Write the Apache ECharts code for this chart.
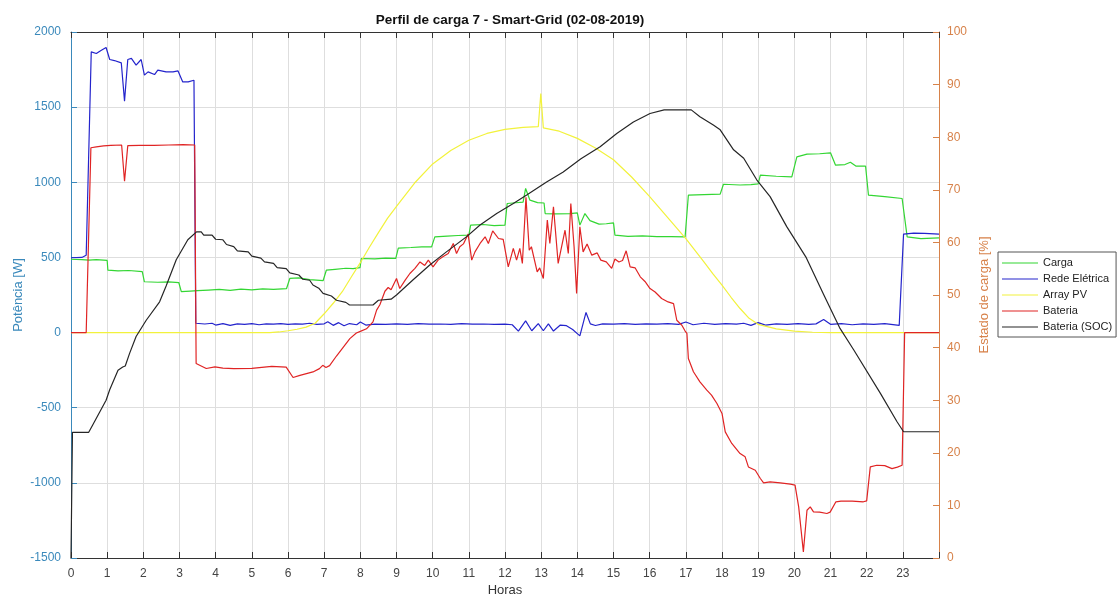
<!DOCTYPE html>
<html>
<head>
<meta charset="utf-8">
<title>Perfil de carga 7 - Smart-Grid</title>
<script src="https://cdn.jsdelivr.net/npm/echarts@6/dist/echarts.min.js"></script>
<style>
  html, body { margin: 0; padding: 0; background: #ffffff; }
  #chart { width: 1119px; height: 598px; }
</style>
</head>
<body>
<div id="chart"></div>
<script>
// Daily profile, 02-08-2019: [hour, value] pairs.
// Power series in W (left axis), battery state of charge in % (right axis).

const seriesNames = ['Carga', 'Rede Elétrica', 'Array PV', 'Bateria', 'Bateria (SOC)'];
const hourTicks = [0, 24, 1];          // min, max, step of the time axis
const powerTicks = [-1500, 2000, 500]; // min, max, step of the power axis
const socTicks = [0, 100, 10];         // min, max, step of the SOC axis

const carga = [
  [0, 488], [0.3, 486], [0.5, 482], [0.7, 485], [1.0, 480], [1.02, 415], [1.3, 410], [1.6, 413],
  [1.97, 405], [2.03, 338], [2.4, 335], [2.7, 337], [2.98, 333], [3.05, 272], [3.3, 276],
  [3.5, 279], [3.8, 283], [4.1, 287], [4.4, 281], [4.7, 289], [5.0, 284], [5.3, 291], [5.6, 287],
  [5.96, 293], [6.05, 360], [6.3, 364], [6.6, 352], [6.97, 345], [7.06, 415], [7.3, 421],
  [7.6, 428], [7.8, 425], [7.99, 432], [8.03, 493], [8.4, 490], [8.7, 496], [8.98, 494],
  [9.05, 562], [9.4, 566], [9.7, 570], [9.97, 570], [10.06, 637], [10.4, 642], [10.7, 646],
  [11.0, 648], [11.05, 715], [11.4, 719], [11.7, 712], [12.0, 715], [12.06, 859], [12.3, 864],
  [12.5, 868], [12.57, 959], [12.69, 881], [12.9, 865], [13.08, 862], [13.11, 792], [13.4, 790],
  [13.8, 792], [14.0, 796], [14.07, 715], [14.21, 792], [14.35, 745], [14.6, 722], [14.8, 724],
  [15.0, 730], [15.04, 648], [15.4, 640], [15.8, 643], [16.2, 639], [16.6, 638], [16.98, 637],
  [17.07, 914], [17.5, 918], [17.95, 921], [18.04, 987], [18.5, 982], [18.8, 985], [19.0, 990],
  [19.06, 1047], [19.5, 1040], [19.93, 1036], [20.07, 1169], [20.35, 1187], [20.7, 1190],
  [21.0, 1196], [21.14, 1114], [21.4, 1118], [21.55, 1133], [21.7, 1108], [21.97, 1107],
  [22.05, 914], [22.5, 905], [22.98, 892], [23.12, 637], [23.5, 625], [24, 630]
];

const rede = [
  [0, 498], [0.3, 500], [0.42, 515], [0.56, 1868], [0.7, 1857], [0.84, 1879], [0.97, 1897],
  [1.07, 1817], [1.2, 1810], [1.39, 1795], [1.48, 1540], [1.57, 1817], [1.67, 1824],
  [1.8, 1779], [1.94, 1817], [2.03, 1713], [2.13, 1735], [2.31, 1717], [2.4, 1746],
  [2.63, 1735], [2.82, 1735], [2.96, 1741], [3.09, 1668], [3.24, 1668], [3.4, 1679],
  [3.45, 62], [3.7, 57], [3.9, 62], [4.0, 50], [4.2, 60], [4.4, 48], [4.6, 58], [4.8, 55],
  [5.0, 60], [5.2, 52], [5.4, 58], [5.6, 56], [5.8, 60], [6.0, 54], [6.2, 58], [6.4, 56],
  [6.6, 62], [6.8, 55], [7.0, 58], [7.1, 72], [7.25, 48], [7.4, 66], [7.55, 45], [7.7, 60],
  [7.9, 52], [8.0, 70], [8.15, 50], [8.4, 56], [8.7, 54], [9.0, 58], [9.3, 55], [9.6, 60],
  [9.9, 56], [10.2, 57], [10.5, 54], [10.8, 60], [11.1, 56], [11.4, 57], [11.7, 55], [12.0, 56],
  [12.2, 52], [12.37, 10], [12.57, 78], [12.74, 12], [12.92, 60], [13.06, 12], [13.2, 58],
  [13.34, 10], [13.53, 50], [13.7, 46], [13.87, 20], [14.07, -22], [14.24, 134], [14.36, 58],
  [14.5, 47], [14.7, 58], [15.0, 56], [15.3, 60], [15.6, 55], [15.9, 58], [16.2, 56],
  [16.5, 60], [16.8, 55], [17.0, 70], [17.2, 52], [17.5, 62], [17.8, 55], [18.1, 60],
  [18.4, 56], [18.6, 62], [18.8, 48], [19.0, 66], [19.2, 50], [19.5, 58], [19.8, 55],
  [20.1, 60], [20.4, 54], [20.6, 58], [20.81, 87], [21.0, 55], [21.3, 60], [21.6, 52],
  [21.9, 58], [22.2, 55], [22.5, 60], [22.9, 48], [23.02, 655], [23.3, 662], [23.6, 660],
  [24, 655]
];

const arrayPV = [
  [0, 0], [5.5, 0], [5.75, 4], [6.0, 12], [6.25, 22], [6.5, 36], [6.75, 62], [7.0, 125],
  [7.25, 195], [7.5, 272], [7.75, 370], [8.0, 465], [8.25, 568], [8.5, 665], [8.75, 760],
  [9.0, 840], [9.5, 995], [10.0, 1122], [10.5, 1212], [11.0, 1280], [11.5, 1325], [12.0, 1352],
  [12.5, 1366], [12.92, 1370], [12.99, 1590], [13.06, 1362], [13.5, 1340], [14.0, 1292],
  [14.5, 1228], [15.0, 1150], [15.5, 1035], [16.0, 905], [16.5, 765], [17.0, 625], [17.5, 470],
  [17.75, 390], [18.0, 315], [18.25, 235], [18.5, 160], [18.75, 95], [19.0, 55], [19.5, 25],
  [20.0, 10], [20.5, 2], [21.0, 0], [24, 0]
];

const bateria = [
  [0, 0], [0.42, 0], [0.55, 1230], [0.7, 1236], [0.9, 1242], [1.1, 1246], [1.4, 1248],
  [1.48, 1007], [1.57, 1244], [1.9, 1246], [2.3, 1245], [2.7, 1248], [3.1, 1250], [3.42, 1248],
  [3.46, -206], [3.74, -239], [3.98, -228], [4.2, -236], [4.5, -240], [5.0, -238], [5.55, -225],
  [5.95, -230], [6.14, -299], [6.33, -285], [6.69, -262], [6.87, -240], [6.96, -218],
  [7.05, -232], [7.15, -220], [7.34, -156], [7.52, -100], [7.71, -40], [7.89, -3], [8.0, 8],
  [8.17, 25], [8.35, 71], [8.45, 149], [8.54, 185], [8.68, 275], [8.77, 300], [8.85, 285],
  [9.0, 360], [9.09, 293], [9.24, 349], [9.37, 393], [9.51, 427], [9.65, 470], [9.78, 447],
  [9.88, 482], [10.01, 437], [10.15, 482], [10.28, 504], [10.43, 526], [10.57, 593],
  [10.66, 526], [10.75, 571], [10.85, 590], [10.98, 655], [11.08, 482], [11.17, 537],
  [11.31, 593], [11.45, 637], [11.54, 593], [11.66, 677], [11.82, 626], [11.95, 620],
  [12.09, 437], [12.23, 560], [12.32, 482], [12.41, 560], [12.48, 460], [12.58, 900],
  [12.67, 548], [12.73, 571], [12.89, 404], [12.96, 430], [13.06, 360], [13.17, 748],
  [13.24, 593], [13.34, 837], [13.47, 460], [13.66, 681], [13.75, 526], [13.82, 859],
  [13.91, 571], [13.98, 260], [14.07, 704], [14.16, 537], [14.27, 590], [14.4, 515],
  [14.55, 530], [14.65, 482], [14.8, 470], [14.95, 427], [15.04, 490], [15.15, 470],
  [15.25, 480], [15.35, 544], [15.46, 437], [15.6, 430], [15.74, 371], [15.87, 340],
  [16.01, 293], [16.15, 270], [16.33, 227], [16.51, 204], [16.66, 193], [16.75, 82],
  [16.89, 49], [16.98, 10], [17.03, -6], [17.07, -172], [17.21, -261], [17.39, -328],
  [17.58, -383], [17.71, -416], [17.86, -472], [18.0, -538], [18.09, -661], [18.27, -738],
  [18.5, -805], [18.64, -827], [18.73, -894], [18.92, -916], [19.06, -971], [19.15, -1000],
  [19.33, -993], [19.61, -1000], [19.89, -1009], [20.02, -1015], [20.12, -1160], [20.17, -1160],
  [20.25, -1459], [20.35, -1182], [20.44, -1160], [20.53, -1193], [20.7, -1195], [20.9, -1204],
  [20.99, -1195], [21.15, -1126], [21.29, -1122], [21.6, -1122], [21.91, -1126], [22.0, -1120],
  [22.1, -894], [22.28, -883], [22.5, -885], [22.7, -905], [22.85, -895], [22.98, -883],
  [23.05, 0], [24, 0]
];

const soc = [
  [0, 0], [0.04, 23.9], [0.49, 23.9], [0.6, 25.3], [0.97, 30.0], [1.07, 32.0], [1.3, 35.7],
  [1.43, 36.3], [1.5, 36.5], [1.62, 38.9], [1.8, 42.1], [2.08, 45.2], [2.45, 48.7],
  [2.63, 51.7], [2.91, 56.7], [3.23, 60.5], [3.47, 62.0], [3.6, 62.0], [3.67, 61.4],
  [3.9, 61.4], [4.0, 60.6], [4.2, 60.5], [4.3, 59.6], [4.5, 59.2], [4.6, 58.4], [4.9, 58.2],
  [5.0, 57.4], [5.25, 57.0], [5.35, 56.3], [5.6, 56.0], [5.7, 55.2], [5.95, 55.0], [6.05, 54.2],
  [6.3, 53.8], [6.41, 53.0], [6.6, 52.8], [6.69, 51.9], [6.85, 51.3], [6.97, 50.3], [7.2, 49.8],
  [7.34, 49.0], [7.6, 48.6], [7.7, 48.1], [8.35, 48.1], [8.5, 49.0], [8.85, 49.2], [9.0, 50.0],
  [9.46, 52.9], [9.92, 55.7], [10.38, 58.2], [10.94, 61.1], [11.31, 63.3], [11.77, 65.5],
  [12.23, 67.4], [12.6, 69.0], [13.15, 71.5], [13.61, 73.4], [14.1, 75.9], [14.63, 78.2],
  [15.09, 80.7], [15.55, 82.9], [16.01, 84.5], [16.4, 85.2], [17.15, 85.2], [17.39, 83.9],
  [17.76, 82.3], [17.95, 81.4], [18.32, 77.6], [18.6, 76.0], [18.96, 71.9], [19.33, 68.7],
  [19.79, 63.0], [20.33, 57.1], [20.81, 50.1], [21.25, 43.8], [21.64, 39.6], [22.38, 31.3],
  [22.84, 25.9], [23.02, 24.0], [24, 24.0]
];

const seriesColors = ['#33d633', '#2424cc', '#f2f23c', '#e02424', '#262626'];

const FONT = '"Liberation Sans", Arial, Helvetica, sans-serif';
const LEFT_COLOR = '#3a89bb';
const RIGHT_COLOR = '#d7824a';
const GRID_COLOR = '#dedede';
const AXIS_DARK = '#333333';

function lineSeries(name, data, color, yAxisIndex) {
  return {
    name: name,
    type: 'line',
    data: data,
    yAxisIndex: yAxisIndex,
    showSymbol: false,
    symbol: 'none',
    lineStyle: { color: color, width: 1.2 },
    itemStyle: { color: color },
    emphasis: { disabled: true }
  };
}

const chart = echarts.init(document.getElementById('chart'), null, { renderer: 'canvas' });

chart.setOption({
  animation: false,
  backgroundColor: '#ffffff',
  title: {
    text: 'Perfil de carga 7 - Smart-Grid (02-08-2019)',
    left: 505,
    top: 8,
    textAlign: 'center',
    textStyle: { fontFamily: FONT, fontSize: 13.5, fontWeight: 'bold', color: '#111111' }
  },
  grid: { left: 71, right: 180, top: 32, bottom: 40, outerBoundsMode: 'none', containLabel: false },
  legend: {
    orient: 'vertical',
    left: 998,
    top: 252,
    data: seriesNames,
    icon: 'rect',
    backgroundColor: '#ffffff',
    borderColor: '#555555',
    borderWidth: 1,
    borderRadius: 0,
    padding: [5, 4, 4, 4],
    itemGap: 4,
    itemWidth: 36,
    itemHeight: 1.2,
    textStyle: { fontFamily: FONT, fontSize: 11, lineHeight: 12, color: '#222222' }
  },
  xAxis: [
    {
      type: 'value',
      position: 'bottom',
      min: hourTicks[0],
      max: hourTicks[1],
      interval: hourTicks[2],
      name: 'Horas',
      nameLocation: 'middle',
      nameGap: 26,
      nameMoveOverlap: false,
      nameTextStyle: { fontFamily: FONT, fontSize: 13, color: '#333333' },
      axisLine: { show: true, onZero: false, lineStyle: { color: AXIS_DARK, width: 1 } },
      axisTick: { show: true, inside: true, length: 6, lineStyle: { color: AXIS_DARK } },
      axisLabel: {
        fontFamily: FONT, fontSize: 12, color: '#444444', margin: 10,
        formatter: function (v) { return v < hourTicks[1] ? String(v) : ''; }
      },
      splitLine: { show: true, lineStyle: { color: GRID_COLOR, width: 1 } }
    },
    {
      type: 'value',
      position: 'top',
      min: hourTicks[0],
      max: hourTicks[1],
      interval: hourTicks[2],
      axisLine: { show: true, onZero: false, lineStyle: { color: AXIS_DARK, width: 1 } },
      axisTick: { show: true, inside: true, length: 6, lineStyle: { color: AXIS_DARK } },
      axisLabel: { show: false },
      splitLine: { show: false }
    }
  ],
  yAxis: [
    {
      type: 'value',
      position: 'left',
      min: powerTicks[0],
      max: powerTicks[1],
      interval: powerTicks[2],
      name: 'Potência [W]',
      nameLocation: 'middle',
      nameRotate: 90,
      nameGap: 46,
      nameMoveOverlap: false,
      nameTextStyle: { fontFamily: FONT, fontSize: 13, color: LEFT_COLOR },
      axisLine: { show: true, onZero: false, lineStyle: { color: LEFT_COLOR, width: 1 } },
      axisTick: { show: true, inside: true, length: 6, lineStyle: { color: LEFT_COLOR } },
      axisLabel: {
        fontFamily: FONT, fontSize: 12, color: LEFT_COLOR, margin: 10,
        formatter: function (v) { return String(v); }
      },
      splitLine: { show: true, lineStyle: { color: GRID_COLOR, width: 1 } }
    },
    {
      type: 'value',
      position: 'right',
      min: socTicks[0],
      max: socTicks[1],
      interval: socTicks[2],
      name: 'Estado de carga [%]',
      nameLocation: 'middle',
      nameRotate: 90,
      nameGap: 39,
      nameMoveOverlap: false,
      nameTextStyle: { fontFamily: FONT, fontSize: 13, color: RIGHT_COLOR },
      axisLine: { show: true, onZero: false, lineStyle: { color: RIGHT_COLOR, width: 1 } },
      axisTick: { show: true, inside: true, length: 6, lineStyle: { color: RIGHT_COLOR } },
      axisLabel: {
        fontFamily: FONT, fontSize: 12, color: RIGHT_COLOR, margin: 8,
        formatter: function (v) { return String(v); }
      },
      splitLine: { show: false }
    }
  ],
  series: [
    lineSeries(seriesNames[0], carga, seriesColors[0], 0),
    lineSeries(seriesNames[1], rede, seriesColors[1], 0),
    lineSeries(seriesNames[2], arrayPV, seriesColors[2], 0),
    lineSeries(seriesNames[3], bateria, seriesColors[3], 0),
    lineSeries(seriesNames[4], soc, seriesColors[4], 1)
  ]
});
</script>
</body>
</html>
